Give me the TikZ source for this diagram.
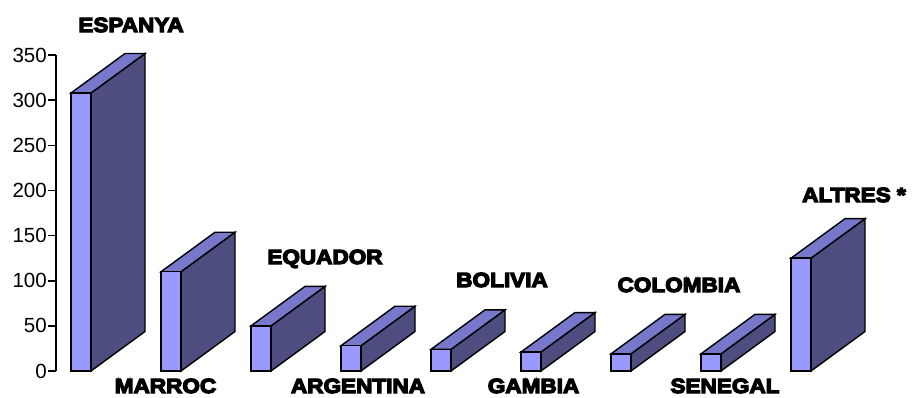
\documentclass[tikz,border=0pt]{standalone}
\usepackage{fontspec}
\setmainfont{Liberation Sans}
\newfontfamily\lblfont[UprightFont={* Bold},FakeStretch=1.1,FakeBold=6]{Liberation Sans}
\definecolor{barfront}{HTML}{9999FF}
\definecolor{bartop}{HTML}{7777CC}
\definecolor{barside}{HTML}{4D4D80}
\tikzset{
  face/.style={draw=black,line width=1.4pt,line join=miter},
  frontface/.style={face,fill=barfront},
  topface/.style={face,fill=bartop},
  sideface/.style={face,fill=barside},
  axisline/.style={draw=black,line width=1.6pt},
  ticklbl/.style={font=\fontsize{20.5}{22}\selectfont,anchor=east,inner sep=0pt},
  barlbl/.style={font=\lblfont\fontsize{20.5}{22}\selectfont,anchor=base,inner sep=0pt}
}
\begin{document}
\begin{tikzpicture}[x=1pt,y=-1pt]
\useasboundingbox (0,0) rectangle (914,397);
% axis
\coordinate (axtop) at (56,55);
\coordinate (axbot) at (56,371);
\draw[axisline] (axtop) -- (axbot);
\foreach \v in {0,50,...,350}{
  \pgfmathsetmacro\ty{371-\v*0.9026}
  \coordinate (tk\v) at (56,\ty);
  \draw[axisline] (tk\v) -- ++(-8,0) coordinate (te\v);
  \node[ticklbl] (tl\v) at ([xshift=-1pt]te\v) {\v};
}
% bars
\foreach \i/\v in {0/308,1/110,2/50,3/28,4/24,5/21,6/19,7/19,8/125}{
  \pgfmathsetmacro\L{71+90*\i}
  \pgfmathsetmacro\R{\L+20}
  \pgfmathsetmacro\T{371-\v*0.9026}
  \coordinate (fl\i) at (\L,\T);
  \coordinate (fr\i) at (\R,\T);
  \coordinate (bl\i) at (\L,371);
  \coordinate (br\i) at (\R,371);
  \filldraw[sideface] (br\i) -- (fr\i) -- ++(54,-39.5) -- ([shift={(54,-39.5)}]br\i) -- cycle;
  \filldraw[topface] (fl\i) -- (fr\i) -- ++(54,-39.5) -- ([shift={(54,-39.5)}]fl\i) -- cycle;
  \filldraw[frontface] (fl\i) rectangle (br\i);
}
% labels
\node[barlbl] (espanya) at (131,32) {ESPANYA};
\node[barlbl] (marroc) at (165.5,393) {MARROC};
\node[barlbl] (equador) at (325,264) {EQUADOR};
\node[barlbl] (argentina) at (358,393) {ARGENTINA};
\node[barlbl] (bolivia) at (502,287) {BOLIVIA};
\node[barlbl] (gambia) at (533.5,393) {GAMBIA};
\node[barlbl] (colombia) at (679,292) {COLOMBIA};
\node[barlbl] (senegal) at (725,393) {SENEGAL};
\node[barlbl] (altres) at (854,202) {ALTRES *};
\end{tikzpicture}
\end{document}
